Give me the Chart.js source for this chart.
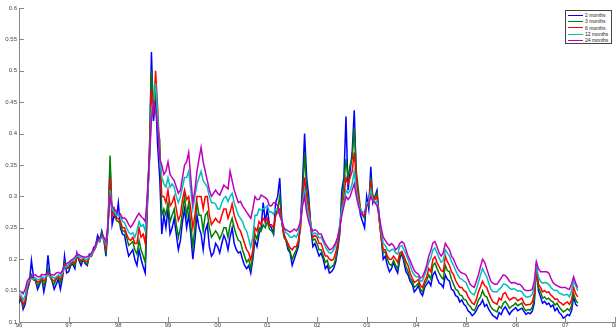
<!DOCTYPE html>
<html><head><meta charset="utf-8">
<script src="https://cdn.jsdelivr.net/npm/chart.js@4.4.1/dist/chart.umd.min.js"></script>
<style>
html,body{margin:0;padding:0;background:#fff;}
#wrap{position:relative;width:616px;height:328px;}
#legend{position:absolute;left:565px;top:10px;width:47px;height:34px;border:1px solid #444;background:#fff;box-sizing:border-box;padding-top:1px;font-family:"Liberation Sans",Arial,sans-serif;font-size:5px;color:#222;overflow:hidden;}
.row{height:6.3px;display:flex;align-items:center;white-space:nowrap;}
.sw{width:15px;height:1px;margin-left:2px;margin-right:2px;flex:none;}
</style></head>
<body><div id="wrap"><canvas id="c" width="616" height="328"></canvas><div id="legend"></div></div>
<script>
// semi-monthly samples, Jan 1996 .. Apr 2007
const startYear = 1996;
const samplesPerYear = 24;
const seriesNames = ['2 months', '3 months', '6 months', '12 months', '24 months'];
const seriesColors = ['#0000ff', '#008000', '#ff0000', '#00bfbf', '#bf00bf'];
const xTickValues = [1996,1997,1998,1999,2000,2001,2002,2003,2004,2005,2006,2007,2008];
const xTickLabels = ['96','97','98','99','00','01','02','03','04','05','06','07','08'];
const yTickValues = [0.1,0.15,0.2,0.25,0.3,0.35,0.4,0.45,0.5,0.55,0.6];
const yTickLabels = ['0.1','0.15','0.2','0.25','0.3','0.35','0.4','0.45','0.5','0.55','0.6'];

const m2 = [
0.13,0.138,0.12,0.128,0.15,0.162,0.198,0.172,0.165,0.152,0.16,0.17,0.148,0.165,0.206,0.175,0.165,0.152,0.16,0.168,0.152,0.17,0.205,0.178,
0.18,0.19,0.192,0.185,0.21,0.198,0.19,0.2,0.193,0.19,0.208,0.205,0.218,0.222,0.238,0.23,0.245,0.232,0.205,0.25,0.35,0.255,0.27,0.265,
0.29,0.25,0.24,0.238,0.22,0.205,0.21,0.215,0.199,0.19,0.215,0.2,0.188,0.178,0.28,0.36,0.53,0.42,0.46,0.38,0.33,0.24,0.27,0.25,
0.28,0.24,0.25,0.265,0.24,0.215,0.23,0.26,0.28,0.25,0.27,0.24,0.20,0.23,0.27,0.25,0.24,0.215,0.245,0.255,0.22,0.205,0.21,0.225,
0.22,0.21,0.225,0.238,0.23,0.215,0.235,0.25,0.225,0.215,0.21,0.212,0.20,0.19,0.185,0.19,0.178,0.2,0.23,0.22,0.24,0.25,0.29,0.26,
0.28,0.255,0.25,0.24,0.29,0.3,0.329,0.26,0.24,0.23,0.215,0.21,0.19,0.2,0.21,0.22,0.26,0.32,0.40,0.33,0.30,0.25,0.22,0.225,
0.215,0.205,0.21,0.2,0.185,0.19,0.178,0.18,0.185,0.195,0.215,0.24,0.31,0.33,0.427,0.31,0.34,0.37,0.437,0.33,0.30,0.27,0.26,0.25,
0.30,0.28,0.347,0.29,0.30,0.31,0.27,0.235,0.20,0.205,0.19,0.18,0.185,0.195,0.185,0.178,0.20,0.21,0.195,0.18,0.175,0.165,0.16,0.148,
0.152,0.158,0.147,0.142,0.155,0.16,0.165,0.158,0.175,0.18,0.17,0.162,0.16,0.155,0.175,0.168,0.165,0.152,0.15,0.142,0.14,0.132,0.135,0.128,
0.125,0.118,0.115,0.11,0.113,0.118,0.125,0.128,0.135,0.125,0.128,0.12,0.115,0.11,0.108,0.105,0.115,0.112,0.12,0.124,0.118,0.112,0.117,0.12,
0.123,0.118,0.12,0.122,0.117,0.112,0.115,0.113,0.117,0.13,0.195,0.15,0.14,0.13,0.133,0.128,0.13,0.124,0.127,0.118,0.122,0.115,0.112,0.106,
0.108,0.112,0.11,0.118,0.14,0.128,0.125];
const m3 = [
0.135,0.138,0.125,0.132,0.155,0.162,0.175,0.168,0.165,0.158,0.163,0.168,0.158,0.168,0.185,0.172,0.165,0.16,0.168,0.17,0.163,0.172,0.195,0.186,
0.185,0.192,0.195,0.19,0.205,0.2,0.195,0.2,0.195,0.192,0.205,0.205,0.214,0.22,0.232,0.228,0.242,0.232,0.212,0.25,0.365,0.27,0.28,0.262,
0.26,0.255,0.245,0.245,0.235,0.222,0.225,0.228,0.215,0.208,0.23,0.215,0.205,0.195,0.30,0.37,0.50,0.44,0.47,0.41,0.39,0.27,0.28,0.27,
0.29,0.26,0.27,0.28,0.255,0.235,0.25,0.275,0.30,0.27,0.29,0.255,0.22,0.25,0.29,0.27,0.27,0.245,0.27,0.275,0.25,0.235,0.24,0.245,
0.24,0.232,0.24,0.25,0.25,0.235,0.255,0.265,0.25,0.238,0.23,0.228,0.215,0.205,0.195,0.2,0.185,0.205,0.24,0.232,0.25,0.245,0.255,0.25,
0.26,0.248,0.245,0.24,0.27,0.28,0.30,0.26,0.235,0.23,0.22,0.212,0.20,0.208,0.215,0.225,0.25,0.3,0.37,0.31,0.29,0.255,0.23,0.232,
0.225,0.215,0.215,0.205,0.195,0.198,0.185,0.188,0.19,0.2,0.22,0.245,0.29,0.32,0.36,0.33,0.35,0.36,0.41,0.34,0.31,0.28,0.27,0.265,
0.29,0.285,0.33,0.3,0.30,0.305,0.265,0.235,0.21,0.212,0.20,0.192,0.19,0.198,0.19,0.185,0.205,0.21,0.20,0.188,0.18,0.17,0.165,0.155,
0.158,0.162,0.152,0.148,0.16,0.166,0.175,0.168,0.19,0.194,0.185,0.178,0.172,0.168,0.19,0.182,0.18,0.168,0.16,0.152,0.15,0.143,0.142,0.136,
0.135,0.128,0.125,0.12,0.118,0.125,0.135,0.14,0.15,0.142,0.14,0.132,0.124,0.12,0.118,0.116,0.125,0.122,0.13,0.133,0.128,0.122,0.125,0.127,
0.13,0.126,0.128,0.13,0.122,0.118,0.12,0.119,0.123,0.135,0.18,0.155,0.148,0.138,0.14,0.136,0.138,0.134,0.132,0.127,0.13,0.124,0.12,0.116,
0.118,0.121,0.118,0.126,0.145,0.135,0.13];
const m6 = [
0.14,0.14,0.128,0.135,0.155,0.163,0.172,0.167,0.168,0.163,0.165,0.17,0.165,0.17,0.178,0.172,0.168,0.165,0.17,0.173,0.168,0.175,0.19,0.186,
0.188,0.194,0.196,0.195,0.203,0.2,0.198,0.2,0.197,0.196,0.203,0.206,0.212,0.218,0.228,0.23,0.237,0.23,0.218,0.255,0.33,0.27,0.275,0.265,
0.265,0.26,0.25,0.25,0.24,0.232,0.23,0.235,0.225,0.225,0.25,0.235,0.24,0.225,0.29,0.36,0.47,0.43,0.50,0.44,0.37,0.3,0.30,0.29,
0.31,0.285,0.29,0.3,0.28,0.262,0.27,0.295,0.31,0.295,0.30,0.28,0.25,0.27,0.30,0.3,0.30,0.28,0.30,0.3,0.27,0.255,0.26,0.265,
0.26,0.258,0.27,0.28,0.28,0.265,0.275,0.288,0.27,0.26,0.25,0.245,0.235,0.225,0.215,0.21,0.199,0.215,0.25,0.245,0.26,0.255,0.265,0.26,
0.265,0.255,0.255,0.25,0.27,0.275,0.28,0.26,0.24,0.232,0.225,0.218,0.215,0.22,0.22,0.23,0.25,0.29,0.33,0.3,0.28,0.255,0.235,0.238,
0.235,0.225,0.225,0.215,0.205,0.205,0.20,0.198,0.20,0.21,0.225,0.25,0.28,0.3,0.33,0.32,0.33,0.34,0.37,0.33,0.30,0.28,0.27,0.27,
0.29,0.29,0.32,0.3,0.295,0.3,0.265,0.235,0.215,0.215,0.205,0.2,0.20,0.205,0.20,0.195,0.21,0.212,0.205,0.196,0.19,0.178,0.17,0.163,
0.165,0.168,0.158,0.155,0.165,0.172,0.185,0.18,0.20,0.204,0.195,0.188,0.182,0.18,0.205,0.196,0.19,0.18,0.175,0.166,0.16,0.155,0.155,0.15,
0.148,0.14,0.135,0.13,0.128,0.136,0.148,0.156,0.165,0.158,0.155,0.146,0.138,0.132,0.13,0.128,0.138,0.135,0.145,0.147,0.14,0.135,0.137,0.139,
0.138,0.134,0.136,0.138,0.13,0.127,0.128,0.128,0.132,0.145,0.185,0.16,0.155,0.148,0.15,0.147,0.148,0.143,0.14,0.136,0.137,0.132,0.13,0.127,
0.13,0.132,0.128,0.135,0.155,0.145,0.14];
const m12 = [
0.145,0.143,0.135,0.142,0.16,0.166,0.17,0.168,0.17,0.167,0.168,0.172,0.17,0.172,0.175,0.172,0.172,0.17,0.172,0.175,0.173,0.178,0.188,0.188,
0.192,0.196,0.198,0.2,0.205,0.204,0.202,0.202,0.2,0.2,0.204,0.207,0.213,0.219,0.228,0.23,0.236,0.232,0.224,0.25,0.31,0.28,0.275,0.27,
0.27,0.268,0.26,0.258,0.25,0.243,0.24,0.242,0.235,0.245,0.26,0.252,0.255,0.245,0.29,0.35,0.44,0.45,0.48,0.43,0.36,0.33,0.32,0.315,
0.33,0.315,0.32,0.315,0.30,0.29,0.30,0.315,0.33,0.33,0.34,0.31,0.28,0.3,0.32,0.33,0.34,0.325,0.32,0.315,0.30,0.29,0.29,0.288,
0.28,0.28,0.29,0.297,0.30,0.292,0.30,0.305,0.29,0.28,0.27,0.265,0.26,0.25,0.245,0.232,0.219,0.235,0.27,0.27,0.28,0.278,0.28,0.282,
0.285,0.275,0.275,0.272,0.28,0.28,0.27,0.26,0.25,0.242,0.24,0.235,0.235,0.238,0.235,0.243,0.26,0.29,0.31,0.285,0.27,0.255,0.24,0.242,
0.24,0.234,0.235,0.228,0.22,0.214,0.21,0.21,0.215,0.222,0.235,0.255,0.28,0.29,0.31,0.305,0.31,0.32,0.34,0.31,0.29,0.28,0.275,0.275,
0.29,0.29,0.31,0.295,0.29,0.292,0.27,0.245,0.225,0.222,0.215,0.212,0.215,0.216,0.21,0.208,0.22,0.222,0.215,0.208,0.20,0.19,0.18,0.175,
0.172,0.172,0.165,0.166,0.175,0.184,0.195,0.202,0.215,0.218,0.21,0.202,0.195,0.198,0.215,0.21,0.205,0.196,0.19,0.182,0.175,0.17,0.168,0.165,
0.163,0.155,0.148,0.145,0.143,0.152,0.163,0.175,0.185,0.178,0.172,0.162,0.152,0.148,0.148,0.148,0.152,0.155,0.16,0.16,0.158,0.154,0.152,0.153,
0.152,0.149,0.15,0.148,0.143,0.14,0.14,0.141,0.144,0.158,0.19,0.172,0.165,0.162,0.163,0.162,0.16,0.155,0.152,0.15,0.15,0.146,0.145,0.143,
0.143,0.144,0.14,0.15,0.165,0.158,0.15];
const m24 = [
0.15,0.148,0.145,0.152,0.165,0.17,0.17,0.174,0.175,0.172,0.172,0.176,0.175,0.176,0.178,0.176,0.175,0.175,0.178,0.179,0.177,0.182,0.19,0.193,
0.195,0.198,0.20,0.203,0.208,0.207,0.205,0.204,0.203,0.204,0.206,0.21,0.215,0.222,0.23,0.233,0.238,0.235,0.228,0.255,0.30,0.285,0.28,0.276,
0.275,0.272,0.265,0.266,0.262,0.255,0.251,0.256,0.262,0.268,0.273,0.268,0.265,0.26,0.30,0.36,0.42,0.45,0.44,0.41,0.36,0.35,0.335,0.34,
0.355,0.335,0.33,0.325,0.315,0.305,0.31,0.33,0.35,0.355,0.37,0.33,0.29,0.31,0.34,0.36,0.378,0.355,0.34,0.325,0.31,0.3,0.305,0.31,
0.305,0.302,0.31,0.318,0.315,0.312,0.34,0.325,0.31,0.3,0.29,0.292,0.285,0.28,0.275,0.27,0.265,0.28,0.30,0.295,0.295,0.302,0.30,0.298,
0.295,0.285,0.285,0.29,0.29,0.285,0.27,0.262,0.25,0.247,0.245,0.243,0.245,0.248,0.245,0.25,0.26,0.285,0.30,0.275,0.26,0.25,0.245,0.247,
0.245,0.24,0.24,0.232,0.225,0.22,0.215,0.216,0.22,0.226,0.235,0.25,0.27,0.285,0.30,0.295,0.30,0.31,0.32,0.3,0.285,0.275,0.27,0.272,
0.285,0.288,0.30,0.292,0.29,0.285,0.27,0.25,0.235,0.23,0.225,0.222,0.225,0.222,0.215,0.218,0.225,0.228,0.225,0.215,0.205,0.198,0.19,0.182,
0.178,0.176,0.17,0.172,0.18,0.19,0.205,0.214,0.226,0.228,0.22,0.21,0.205,0.21,0.225,0.22,0.215,0.205,0.20,0.192,0.185,0.18,0.178,0.177,
0.175,0.168,0.16,0.157,0.155,0.165,0.175,0.188,0.20,0.195,0.185,0.175,0.165,0.162,0.16,0.16,0.165,0.17,0.175,0.174,0.17,0.165,0.162,0.163,
0.162,0.16,0.16,0.157,0.152,0.15,0.15,0.15,0.152,0.165,0.196,0.185,0.18,0.18,0.18,0.18,0.178,0.17,0.163,0.16,0.158,0.156,0.155,0.155,
0.155,0.153,0.152,0.16,0.172,0.162,0.155];

const seriesValues = [m2, m3, m6, m12, m24];
const dates = m2.map((_, i) => startYear + i / samplesPerYear);

const datasets = seriesValues.map((vals, k) => ({
  label: seriesNames[k],
  data: vals.map((v, i) => ({x: dates[i], y: v})),
  borderColor: seriesColors[k],
  backgroundColor: seriesColors[k],
  borderWidth: 1.5,
  pointRadius: 0,
  tension: 0,
  fill: false,
  order: seriesValues.length - 1 - k
}));

const tickFont = {family: '"Liberation Sans", Arial, sans-serif', size: 6};
const axisColor = '#888';

const inwardTicks = {
  id: 'inwardTicks',
  afterDraw(chart) {
    const ctx = chart.ctx, a = chart.chartArea, xs = chart.scales.x, ys = chart.scales.y;
    ctx.save();
    ctx.strokeStyle = axisColor; ctx.lineWidth = 1;
    ctx.beginPath();
    ys.ticks.forEach(t => { const py = Math.round(ys.getPixelForValue(t.value)) + 0.5; ctx.moveTo(a.left, py); ctx.lineTo(a.left + 5, py); });
    xs.ticks.forEach(t => { const px = Math.round(xs.getPixelForValue(t.value)) + 0.5; ctx.moveTo(px, a.bottom); ctx.lineTo(px, a.bottom - 5); });
    ctx.stroke();
    ctx.restore();
  }
};

new Chart(document.getElementById('c'), {
  type: 'line',
  data: {datasets},
  options: {
    responsive: false,
    devicePixelRatio: 1,
    animation: false,
    layout: {padding: {top: 8, right: 1, left: 0, bottom: 0}},
    plugins: {legend: {display: false}, tooltip: {enabled: false}},
    scales: {
      x: {
        type: 'linear', min: 1996, max: 2008,
        afterBuildTicks: s => { s.ticks = xTickValues.map(v => ({value: v})); },
        afterFit: s => { s.height = 6; s.paddingLeft = 0; s.paddingRight = 0; },
        ticks: {font: tickFont, color: '#444', padding: 0, maxRotation: 0, autoSkip: false,
          callback: (v) => xTickLabels[xTickValues.indexOf(Math.round(v))]},
        grid: {display: false, drawTicks: false},
        border: {display: true, color: axisColor, width: 1}
      },
      y: {
        type: 'linear', min: 0.1, max: 0.6,
        afterBuildTicks: s => { s.ticks = yTickValues.map(v => ({value: v})); },
        afterFit: s => { s.width = 19; s.paddingTop = 0; s.paddingBottom = 0; },
        ticks: {font: tickFont, color: '#444', padding: 2, autoSkip: false,
          callback: (v) => { const i = yTickValues.findIndex(t => Math.abs(t - v) < 1e-9); return i >= 0 ? yTickLabels[i] : ''; }},
        grid: {display: false, drawTicks: false},
        border: {display: true, color: axisColor, width: 1}
      }
    }
  },
  plugins: [inwardTicks]
});

const leg = document.getElementById('legend');
seriesNames.forEach((n, k) => {
  const r = document.createElement('div'); r.className = 'row';
  const sw = document.createElement('span'); sw.className = 'sw'; sw.style.background = seriesColors[k];
  const tx = document.createElement('span'); tx.textContent = n;
  r.appendChild(sw); r.appendChild(tx); leg.appendChild(r);
});
</script>
</body></html>
